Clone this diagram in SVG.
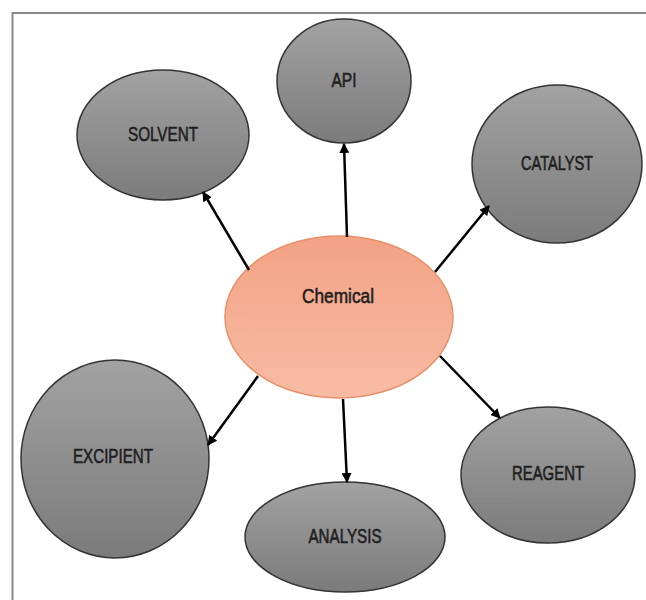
<svg xmlns="http://www.w3.org/2000/svg" width="646" height="600" viewBox="0 0 646 600">
<defs>
<linearGradient id="grey" x1="0" y1="0" x2="0" y2="1">
<stop offset="0" stop-color="#a2a2a2"/>
<stop offset="1" stop-color="#7b7b7b"/>
</linearGradient>
<linearGradient id="orange" x1="0" y1="0" x2="0" y2="1">
<stop offset="0" stop-color="#f3a285"/>
<stop offset="1" stop-color="#f7bca4"/>
</linearGradient>
<marker id="arr" viewBox="0 0 10 10" refX="9" refY="5" markerWidth="4" markerHeight="4" orient="auto" markerUnits="strokeWidth">
<path d="M0,0 L10,5 L0,10 z" fill="#000"/>
</marker>
</defs>
<style>
.n{fill:url(#grey);stroke:#333;stroke-width:1.5}
.c{fill:url(#orange);stroke:#e8906a;stroke-width:1.5}
.t{font-family:"Liberation Sans",Arial,sans-serif;font-size:21px;fill:#1e1e1e;stroke:#1e1e1e;stroke-width:0.6;text-anchor:middle;dominant-baseline:central}
.e{stroke:#000;stroke-width:2.5;fill:none;marker-end:url(#arr)}
</style>
<rect x="12.5" y="13" width="650" height="600" fill="#fff" stroke="#8a8a8a" stroke-width="2"/>
<g id="api"><ellipse class="n" cx="344" cy="81" rx="67" ry="62"/><text class="t" x="344" y="79" textLength="25" lengthAdjust="spacingAndGlyphs">API</text></g>
<g id="solvent"><ellipse class="n" cx="163" cy="135" rx="86" ry="65"/><text class="t" x="163" y="133" textLength="70" lengthAdjust="spacingAndGlyphs">SOLVENT</text></g>
<g id="catalyst"><ellipse class="n" cx="557" cy="164" rx="85" ry="79"/><text class="t" x="557" y="162" textLength="72" lengthAdjust="spacingAndGlyphs">CATALYST</text></g>
<g id="chemical"><ellipse class="c" cx="339" cy="317" rx="114" ry="81"/><text class="t" x="338" y="295" textLength="72" lengthAdjust="spacingAndGlyphs">Chemical</text></g>
<g id="excipient"><ellipse class="n" cx="115" cy="459" rx="94" ry="99"/><text class="t" x="113" y="455" textLength="80" lengthAdjust="spacingAndGlyphs">EXCIPIENT</text></g>
<g id="analysis"><ellipse class="n" cx="345" cy="537" rx="100" ry="55"/><text class="t" x="345" y="535" textLength="73" lengthAdjust="spacingAndGlyphs">ANALYSIS</text></g>
<g id="reagent"><ellipse class="n" cx="548" cy="475" rx="87" ry="68"/><text class="t" x="548" y="472" textLength="72" lengthAdjust="spacingAndGlyphs">REAGENT</text></g>
<g id="connectors">
<line class="e" x1="347" y1="237" x2="344" y2="144"/>
<line class="e" x1="249" y1="270" x2="203" y2="192"/>
<line class="e" x1="435" y1="272" x2="489" y2="206"/>
<line class="e" x1="258" y1="376" x2="208" y2="445"/>
<line class="e" x1="343" y1="399" x2="347" y2="482"/>
<line class="e" x1="440" y1="356" x2="500" y2="418"/>
</g>
</svg>
